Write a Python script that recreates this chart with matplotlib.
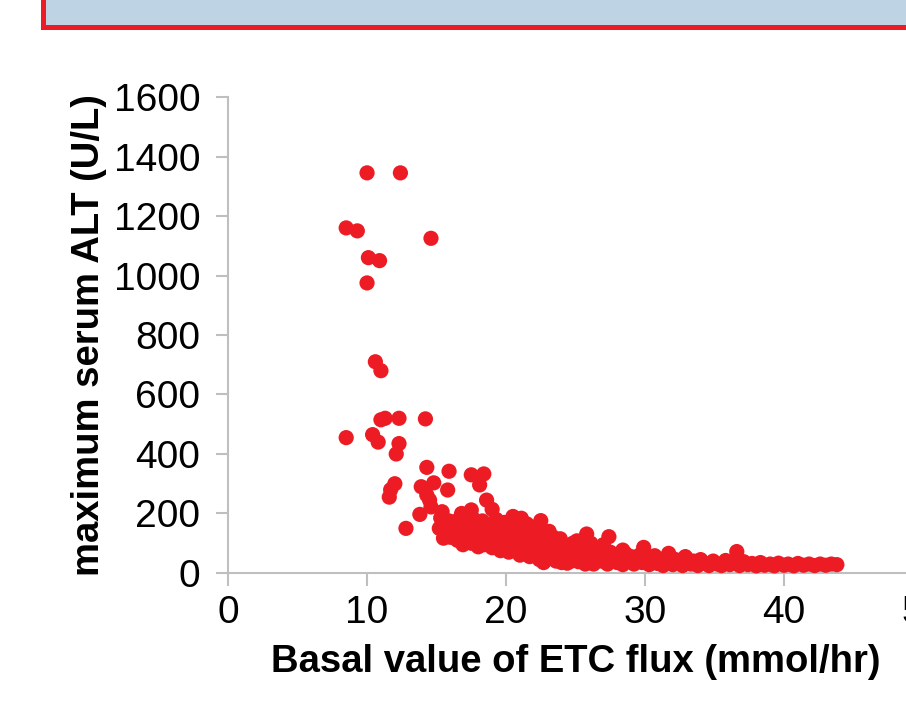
import matplotlib
matplotlib.use("Agg")
import matplotlib.pyplot as plt
from matplotlib.patches import Rectangle

plt.rcParams["font.family"] = ["Liberation Sans", "DejaVu Sans"]

# basal ETC flux (mmol/hr) vs max serum ALT (U/L)
etc_flux = [
    8.5, 9.3, 10.0, 12.4, 14.6, 10.1, 10.9, 10.0, 10.6, 11.0,
    8.5, 10.4, 10.8, 11.0, 11.3, 12.3, 14.2, 12.3, 12.1, 12.0,
    11.7, 11.6, 12.8, 14.3, 15.9, 14.8, 15.8, 13.9, 14.3, 17.5,
    18.4, 18.1, 18.6, 19.0, 13.8, 14.6, 15.4, 16.8, 17.5, 20.5,
    21.1, 22.5, 23.4, 25.8, 27.4, 28.4, 29.9, 31.7, 32.9, 36.6,
    14.5,
    15.2, 15.5, 15.6, 15.8, 15.9, 16.0, 15.3, 16.2, 16.4, 16.5,
    16.6, 16.8, 16.9, 17.0, 17.1, 17.2, 17.4, 17.5, 17.6, 17.8,
    17.9, 18.0, 18.1, 18.2, 18.3, 18.4, 18.5, 18.6, 18.8, 18.9,
    19.0, 19.1, 19.2, 19.3, 19.4, 19.5, 19.6, 19.7, 19.8, 19.9,
    20.0, 20.1, 20.2, 20.3, 20.4, 20.5, 20.6, 20.7, 20.8, 20.9,
    21.0, 21.1, 21.2, 21.3, 21.4, 21.5, 21.6, 21.7, 21.8, 21.9,
    22.0, 22.1, 22.2, 22.3, 22.4, 22.5, 22.6, 22.7, 22.8, 22.9,
    23.0, 23.1, 23.2, 23.3, 23.5, 23.6, 23.7, 23.8, 23.9, 24.0,
    24.1, 24.2, 24.3, 24.4, 24.5, 24.6, 24.7, 24.8, 24.9, 25.0,
    25.1, 25.2, 25.3, 25.5, 25.6, 25.7, 25.9, 26.0, 26.1, 26.2,
    26.3, 26.5, 26.6, 26.7, 26.9, 27.0, 27.1, 27.3, 27.5, 27.6,
    27.8, 28.0, 28.2, 28.4, 28.6, 28.8, 29.0, 29.2, 29.4, 29.6,
    29.8, 30.1, 30.3, 30.5, 30.7, 30.9, 31.1, 31.3, 31.5, 31.8,
    32.0, 32.2, 32.5, 32.7, 33.0, 33.3, 33.5, 33.8, 34.0, 34.3,
    34.6, 34.9, 35.2, 35.5, 35.8, 36.1, 36.4, 36.8, 37.1, 37.4,
    37.7, 38.0, 38.3, 38.6, 39.0, 39.3, 39.6, 40.0, 40.3, 40.7,
    41.0, 41.4, 41.8, 42.2, 42.6, 43.0, 43.4, 43.8,
]
max_alt = [
    1160, 1150, 1345, 1345, 1125, 1060, 1050, 975, 710, 680,
    455, 465, 440, 515, 520, 520, 518, 435, 400, 300,
    280, 255, 150, 355, 342, 303, 279, 290, 262, 330,
    333, 296, 245, 214, 197, 222, 206, 200, 212, 190,
    184, 176, 120, 131, 122, 77, 86, 66, 55, 72,
    245,
    150, 117, 160, 135, 175, 120, 185, 145, 165, 110,
    180, 130, 95, 150, 170, 115, 140, 100, 185, 125,
    160, 88, 140, 110, 175, 95, 150, 125, 105, 165,
    85, 140, 120, 180, 100, 155, 75, 130, 110, 170,
    90, 145, 70, 120, 160, 100, 135, 80, 175, 115,
    60, 150, 95, 130, 75, 165, 105, 55, 140, 85,
    120, 65, 155, 100, 45, 130, 80, 35, 110, 60,
    95, 140, 50, 75, 105, 40, 85, 60, 115, 35,
    70, 95, 50, 33, 80, 60, 40, 100, 55, 75,
    108, 38, 65, 90, 45, 30, 70, 55, 100, 35,
    30, 80, 50, 65, 40, 95, 55, 30, 70, 45,
    60, 35, 50, 28, 65, 40, 55, 30, 45, 60,
    35, 50, 28, 42, 58, 32, 45, 25, 50, 35,
    28, 45, 38, 25, 48, 30, 40, 25, 45, 32,
    25, 40, 30, 25, 42, 28, 35, 25, 38, 28,
    32, 24, 35, 26, 30, 24, 33, 26, 30, 24,
    32, 26, 30, 25, 30, 26, 30, 28,
]

x_ticks = [0, 10, 20, 30, 40, 50]
y_ticks = [0, 200, 400, 600, 800, 1000, 1200, 1400, 1600]

red = "#ED1C24"
axis_gray = "#BFBFBF"

fig = plt.figure(figsize=(9.06, 7.04), dpi=100)

# banner of the slide, cut off at the top
fig.patches.append(Rectangle((0.048, 0.962), 1.0, 0.1, transform=fig.transFigure,
                             facecolor="#BED3E4", edgecolor=red, linewidth=3.6))

ax = fig.add_axes([0.2517, 0.1861, 0.7671, 0.6761])
ax.scatter(etc_flux, max_alt, s=120, color=red, edgecolors="none", zorder=3, clip_on=False)

ax.set_xlim(0, 50)
ax.set_ylim(0, 1600)
ax.set_xticks(x_ticks)
ax.set_yticks(y_ticks)

for side in ["top", "right"]:
    ax.spines[side].set_visible(False)
for side in ["left", "bottom"]:
    ax.spines[side].set_color(axis_gray)
    ax.spines[side].set_linewidth(1.5)

ax.tick_params(axis="both", direction="out", length=9, width=1.5, color=axis_gray,
               labelsize=28, labelcolor="black")
ax.tick_params(axis="x", pad=7)
ax.tick_params(axis="y", pad=11)

ax.set_xlabel("Basal value of ETC flux (mmol/hr)", fontsize=27.5, fontweight="bold", labelpad=9)
ax.set_ylabel("maximum serum ALT (U/L)", fontsize=27.5, fontweight="bold", labelpad=5)

fig.savefig("out.png", dpi=100)
